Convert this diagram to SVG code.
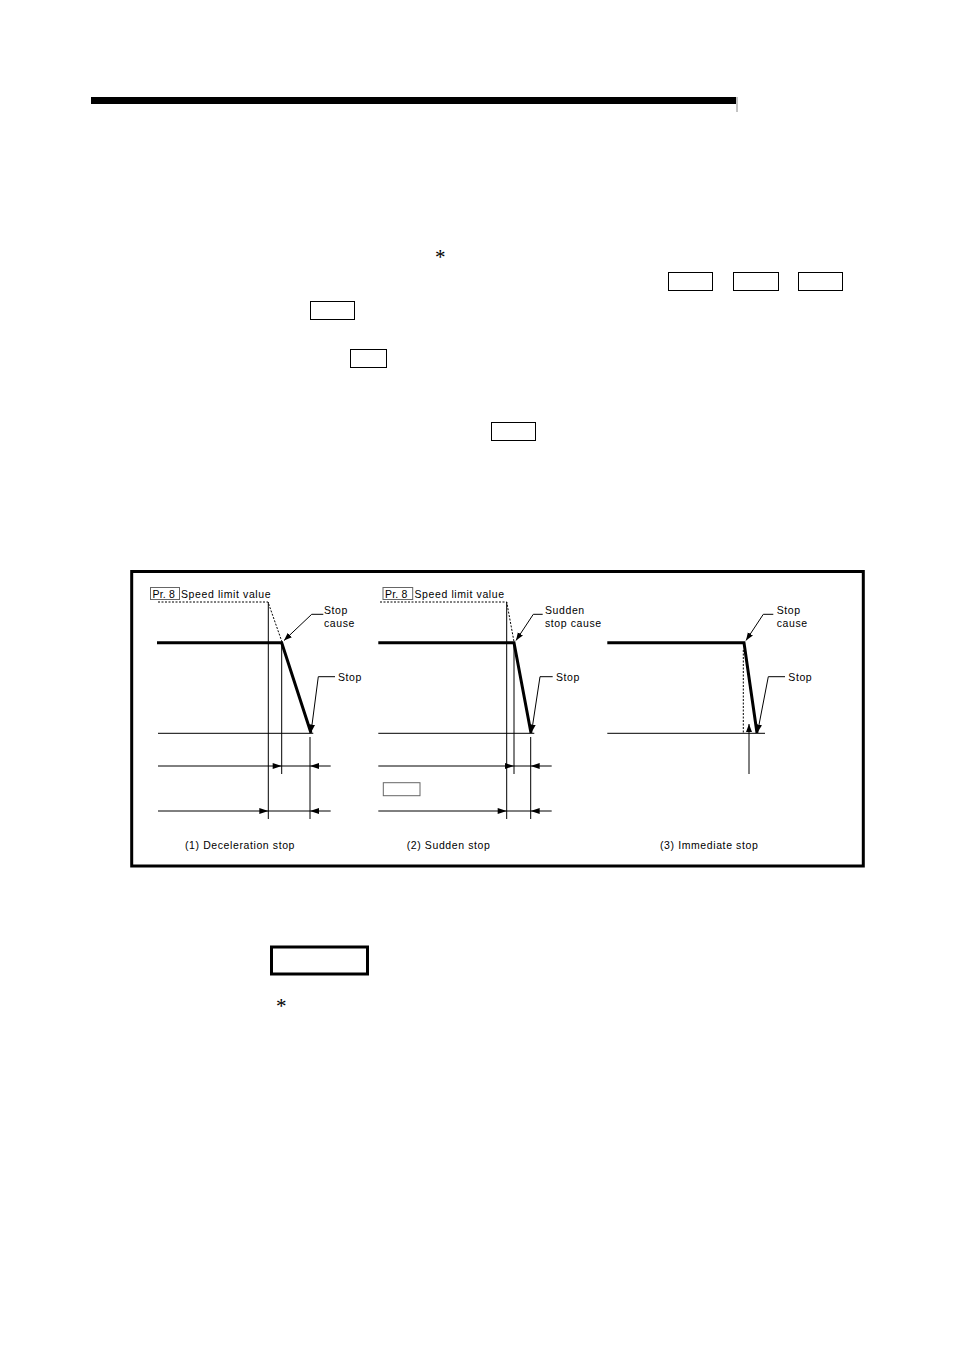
<svg xmlns="http://www.w3.org/2000/svg" width="954" height="1350" viewBox="0 0 954 1350">
<style>
.t{font-family:"Liberation Sans",Arial,sans-serif;font-size:10.5px;letter-spacing:0.6px;fill:#000}
.pr{font-family:"Liberation Sans",Arial,sans-serif;font-size:10.5px;letter-spacing:0.2px;fill:#000}
.ast{font-family:"Liberation Serif","Times New Roman",serif;font-size:21px;fill:#000}
.thin{stroke:#000;stroke-width:1;fill:none}
.thick{stroke:#000;stroke-width:3;fill:none;stroke-linejoin:miter}
.dash{stroke:#000;stroke-width:1;fill:none;stroke-dasharray:2,1.5}
.pbox{fill:#fff;stroke:#000;stroke-width:1}
.gbox{fill:#fff;stroke:#666;stroke-width:1}
.ah{fill:#000}
</style>
<defs>
<marker id="arr" markerWidth="9" markerHeight="7" refX="8" refY="3" orient="auto" markerUnits="userSpaceOnUse">
<path d="M0,0 L8,3 L0,6 z" fill="#000"/>
</marker>
</defs>
<rect width="954" height="1350" fill="#fff"/>

<g id="header">
<rect x="91" y="97" width="645" height="7" fill="#000"/>
<line x1="737" y1="97" x2="737" y2="112" stroke="#888" stroke-width="1"/>
</g>

<g id="text-marks">
<text class="ast" x="435" y="264">*</text>
<rect class="pbox" x="668.5" y="272.5" width="44" height="18"/>
<rect class="pbox" x="733.5" y="272.5" width="45" height="18"/>
<rect class="pbox" x="798.5" y="272.5" width="44" height="18"/>
<rect class="pbox" x="310.5" y="301.5" width="44" height="18"/>
<rect class="pbox" x="350.5" y="349.5" width="36" height="18"/>
<rect class="pbox" x="491.5" y="422.5" width="44" height="18"/>
</g>

<g id="frame">
<rect x="131.7" y="571.5" width="731.6" height="294.5" fill="none" stroke="#000" stroke-width="3"/>
</g>

<g id="panel1">
<rect class="gbox" x="150.5" y="587.5" width="29" height="12"/>
<text class="pr" x="152.5" y="597.5">Pr. 8</text>
<text class="t" x="181" y="597.5">Speed limit value</text>
<text class="t" x="324" y="614">Stop</text>
<text class="t" x="324" y="626.7">cause</text>
<text class="t" x="338" y="680.7">Stop</text>
<text class="t" x="185" y="849">(1) Deceleration stop</text>
</g>

<g id="panel2">
<rect class="gbox" x="383" y="587.5" width="29.7" height="12"/>
<text class="pr" x="385" y="597.5">Pr. 8</text>
<text class="t" x="414.5" y="597.5">Speed limit value</text>
<text class="t" x="545" y="614">Sudden</text>
<text class="t" x="545" y="626.7">stop cause</text>
<text class="t" x="556" y="680.7">Stop</text>
<rect class="gbox" x="383.3" y="782.7" width="36.7" height="13"/>
<text class="t" x="406.7" y="849">(2) Sudden stop</text>
</g>

<g id="panel3">
<text class="t" x="776.7" y="614">Stop</text>
<text class="t" x="776.7" y="626.7">cause</text>
<text class="t" x="788.3" y="680.7">Stop</text>
<text class="t" x="660" y="849">(3) Immediate stop</text>
</g>

<g id="connectors">
<polyline class="dash" points="158,602 268,602 282,642"/>
<polyline class="thick" points="157,642.7 281.7,642.7 311,733"/>
<line class="thin" x1="268.3" y1="602" x2="268.3" y2="819"/>
<line class="thin" x1="281.7" y1="642" x2="281.7" y2="774"/>
<line class="thin" x1="310" y1="737" x2="310" y2="819"/>
<line class="thin" x1="158" y1="733.3" x2="313.3" y2="733.3"/>
<line class="thin" x1="158" y1="766" x2="330.7" y2="766"/>
<line class="thin" x1="158" y1="811" x2="330.7" y2="811"/>
<polygon class="ah" points="272.7,763 281.7,766 272.7,769"/>
<polygon class="ah" points="319,763 310,766 319,769"/>
<polygon class="ah" points="259.3,808 268.3,811 259.3,814"/>
<polygon class="ah" points="319,808 310,811 319,814"/>
<polyline class="thin" points="323.3,614.3 311.7,614.3 284,640.5" marker-end="url(#arr)"/>
<polyline class="thin" points="335,676.7 318.3,676.7 311,732.5" marker-end="url(#arr)"/>
<polyline class="dash" points="380,602 506.7,602 514,641.7"/>
<polyline class="thick" points="378.3,642.7 514,642.7 531,733"/>
<line class="thin" x1="506.7" y1="602" x2="506.7" y2="819"/>
<line class="thin" x1="514" y1="642" x2="514" y2="774"/>
<line class="thin" x1="530.7" y1="737" x2="530.7" y2="819"/>
<line class="thin" x1="378.3" y1="733.3" x2="534.3" y2="733.3"/>
<line class="thin" x1="378.3" y1="766" x2="551.7" y2="766"/>
<line class="thin" x1="378.3" y1="811" x2="551.7" y2="811"/>
<polygon class="ah" points="505,763 514,766 505,769"/>
<polygon class="ah" points="539.7,763 530.7,766 539.7,769"/>
<polygon class="ah" points="497.7,808 506.7,811 497.7,814"/>
<polygon class="ah" points="539.7,808 530.7,811 539.7,814"/>
<polyline class="thin" points="542.7,614.3 533.3,614.3 516,640.5" marker-end="url(#arr)"/>
<polyline class="thin" points="552.7,676.7 540,676.7 531.5,732.5" marker-end="url(#arr)"/>
<polyline class="thick" points="607.3,642.7 744,642.7 757,733"/>
<line class="dash" x1="743.3" y1="650" x2="743.3" y2="733"/>
<line class="thin" x1="607.3" y1="733.3" x2="765" y2="733.3"/>
<line class="thin" x1="749" y1="774" x2="749" y2="724" marker-end="url(#arr)"/>
<polyline class="thin" points="773.3,614.3 763.3,614.3 746,640.5" marker-end="url(#arr)"/>
<polyline class="thin" points="785,676.7 768.3,676.7 757.5,732.5" marker-end="url(#arr)"/>
</g>

<g id="bottom">
<rect x="271.5" y="947" width="96" height="27" fill="#fff" stroke="#000" stroke-width="3"/>
<text class="ast" x="276" y="1013">*</text>
</g>
</svg>
